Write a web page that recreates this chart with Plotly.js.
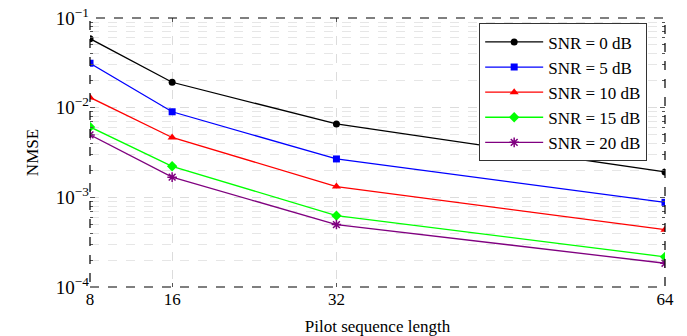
<!DOCTYPE html>
<html>
<head>
<meta charset="utf-8">
<script src="https://cdn.plot.ly/plotly-3.0.1.min.js"></script>
<style>html,body{margin:0;padding:0;background:#fff;}#chart{width:687px;height:336px;}</style>
</head>
<body>
<div id="chart"></div>
<script>
const pilotLengths = [8, 16, 32, 64];
const seriesNames = ['SNR = 0 dB', 'SNR = 5 dB', 'SNR = 10 dB', 'SNR = 15 dB', 'SNR = 20 dB'];
const snr0 = [0.0588, 0.0192, 0.00658, 0.00192];
const snr5 = [0.0313, 0.0090, 0.00268, 0.00088];
const snr10 = [0.0130, 0.00465, 0.00132, 0.000436];
const snr15 = [0.0061, 0.00222, 0.000625, 0.000217];
const snr20 = [0.00497, 0.00168, 0.000497, 0.000184];
const yTickVals = [1e-4, 1e-3, 1e-2, 1e-1];
const yTickText = ['10<sup>−4</sup>', '10<sup>−3</sup>', '10<sup>−2</sup>', '10<sup>−1</sup>'];

const allSeries = [snr0, snr5, snr10, snr15, snr20];
const colors = ['#000000', '#0000ff', '#ff0000', '#00ff00', '#800080'];
const symbols = ['circle', 'square', 'triangle-up', 'diamond', 'asterisk-open'];
const sizes = [7, 7, 8, 8, 8];

const font = "Liberation Serif, DejaVu Serif, serif";

const traces = allSeries.map((ys, i) => ({
  x: pilotLengths,
  y: ys,
  name: seriesNames[i],
  type: 'scatter',
  mode: 'lines+markers',
  line: {color: colors[i], width: 1.3},
  marker: {symbol: symbols[i], size: sizes[i], color: colors[i], line: {color: colors[i], width: i === 4 ? 1.5 : 0}}
}));

const layout = {
  width: 687, height: 336,
  margin: {l: 90, r: 22, t: 18, b: 49},
  paper_bgcolor: '#fff', plot_bgcolor: '#fff',
  font: {family: font, size: 17, color: '#000'},
  showlegend: true,
  legend: {
    x: 0.969, y: 0.98, xanchor: 'right', yanchor: 'top',
    bgcolor: '#fff', bordercolor: '#333', borderwidth: 1,
    font: {family: font, size: 17, color: '#000'},
    tracegroupgap: 0, itemwidth: 58
  },
  xaxis: {
    range: [8, 64],
    tickvals: pilotLengths,
    ticktext: pilotLengths.map(String),
    ticks: 'inside', ticklen: 4, tickcolor: '#555',
    showgrid: true, gridcolor: '#dcdcdc', griddash: 'dash', gridwidth: 1,
    zeroline: false, showline: false, mirror: 'ticks',
    tickfont: {family: font, size: 17},
    title: {text: 'Pilot sequence length', font: {family: font, size: 17}, standoff: 12}
  },
  yaxis: {
    type: 'log',
    range: [-4, -1],
    tickvals: yTickVals,
    ticktext: yTickText,
    ticks: 'inside', ticklen: 5, tickcolor: '#555',
    showgrid: true, gridcolor: '#dcdcdc', griddash: 'dash', gridwidth: 1,
    minor: {dtick: 'D1', ticks: 'inside', ticklen: 3, tickcolor: '#555', showgrid: true, gridcolor: '#e6e6e6', griddash: 'dash'},
    zeroline: false, showline: false, mirror: 'ticks',
    tickfont: {family: font, size: 19},
    title: {text: 'NMSE', font: {family: font, size: 17}, standoff: 12}
  },
  shapes: [{
    type: 'rect', xref: 'paper', yref: 'paper', x0: 0, x1: 1, y0: 0, y1: 1,
    line: {color: '#000', width: 1.2, dash: 'dash'}, layer: 'above'
  }]
};

Plotly.newPlot('chart', traces, layout, {displayModeBar: false, staticPlot: true});
</script>
</body>
</html>
